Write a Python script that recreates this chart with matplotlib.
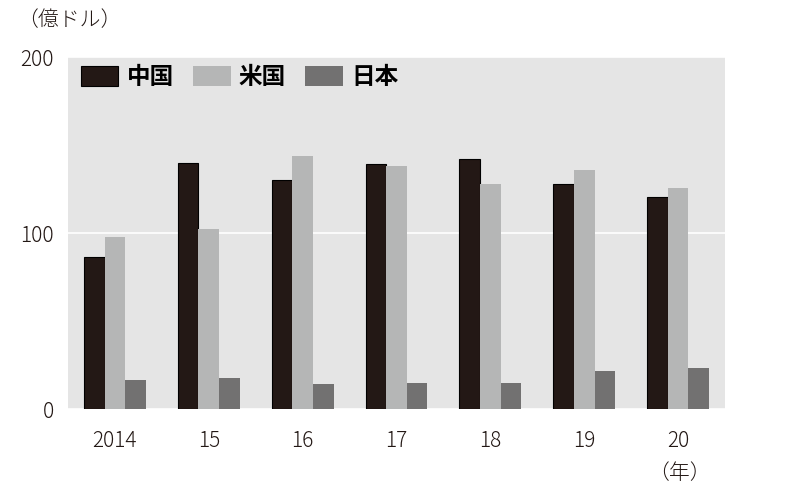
import matplotlib
matplotlib.use("Agg")
import matplotlib.pyplot as plt
import numpy as np

plt.rcParams['font.family'] = ['Noto Sans CJK JP', 'DejaVu Sans']

years = ['2014', '15', '16', '17', '18', '19', '20']
series_names = ['中国', '米国', '日本']
china = [86.5, 140, 130, 139, 142, 128, 120.5]
usa = [97.5, 102.5, 144, 138, 128, 136, 125.5]
japan = [16.5, 17.5, 14, 15, 14.5, 21.5, 23.5]
colors = ['#231815', '#b5b6b6', '#727171']
text_color = '#231815'

fig = plt.figure(figsize=(8, 4.95), dpi=100)
ax = fig.add_axes([68 / 800, 86 / 495, 657 / 800, 352 / 495])
ax.set_facecolor('#e5e5e5')

x = np.arange(len(years))
w = 0.22
ax.bar(x - w, china, width=w, color=colors[0], edgecolor='black', linewidth=0.8,
       label=series_names[0], zorder=3)
ax.bar(x, usa, width=w, color=colors[1], label=series_names[1], zorder=3)
ax.bar(x + w, japan, width=w, color=colors[2], label=series_names[2], zorder=3)

ax.set_xlim(-0.5, len(years) - 0.5)
ax.set_ylim(0, 200)
ax.set_yticks([0, 100, 200])
ax.set_xticks(x)
ax.set_xticklabels(years)
ax.yaxis.grid(True, color='white', linewidth=1.2, zorder=1)
ax.set_axisbelow(True)
for s in ax.spines.values():
    s.set_visible(False)
ax.tick_params(axis='both', length=0, labelsize=15, colors=text_color)
ax.tick_params(axis='x', pad=15)
ax.tick_params(axis='y', pad=10)
for lab in ax.get_xticklabels() + ax.get_yticklabels():
    lab.set_fontweight('light')

leg = ax.legend(loc='upper left', bbox_to_anchor=(0.012, 0.99), ncol=3,
                frameon=False, prop={'size': 17, 'weight': 'bold'},
                handlelength=1.6, handleheight=0.95, handletextpad=0.35,
                columnspacing=0.8, borderpad=0.2, borderaxespad=0)

fig.text(17 / 800, 1 - 20 / 495, '（億ドル）', fontsize=15, va='center', ha='left',
         color=text_color, fontweight='light')
fig.text(679 / 800, 1 - 473 / 495, '（年）', fontsize=15, va='center', ha='center',
         color=text_color, fontweight='light')

fig.savefig('out.png', dpi=100)
